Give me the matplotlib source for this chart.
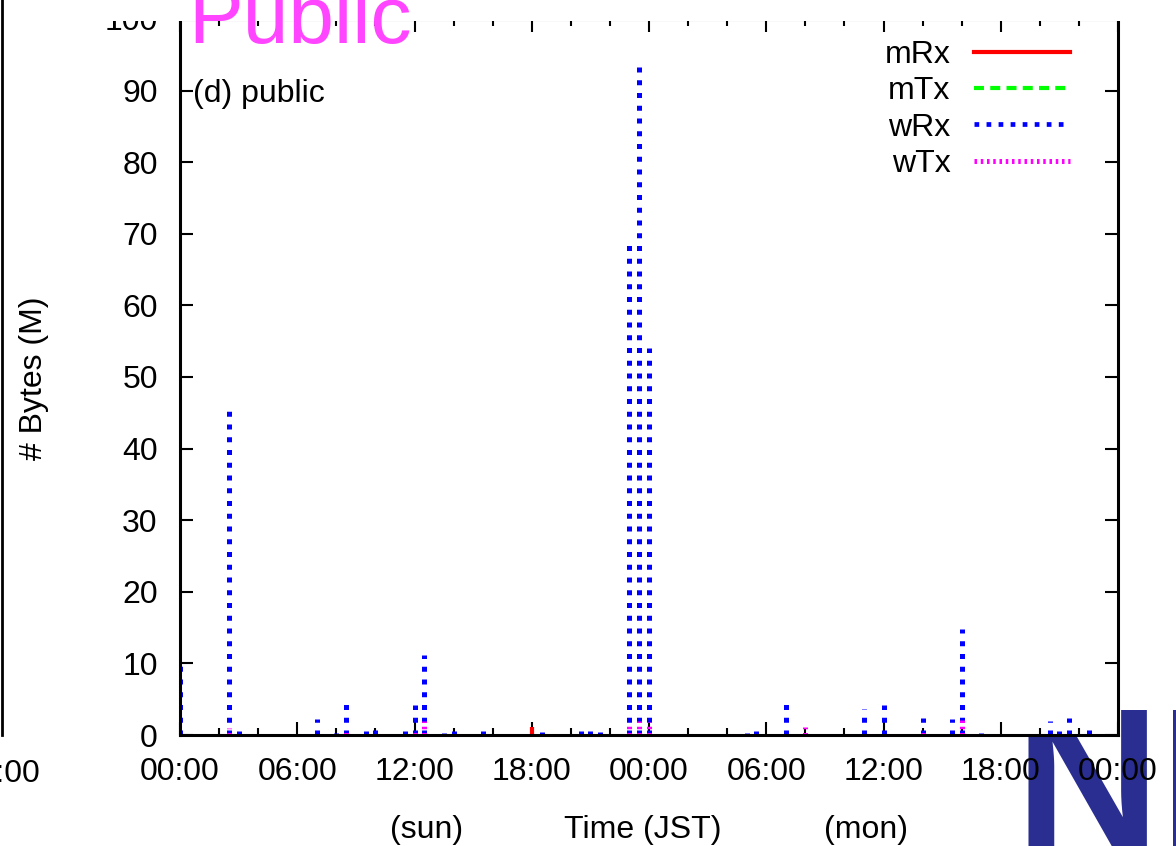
import matplotlib
matplotlib.use('Agg')
import matplotlib.pyplot as plt
from matplotlib.lines import Line2D
from matplotlib.patches import Rectangle

plt.rcParams['font.family'] = ['Liberation Sans', 'DejaVu Sans']

# hours since 00:00 (sat/sun boundary), values in MBytes
mrx_hours = [18.0]
mrx_vals = [1.1]
mtx_hours = []
mtx_vals = []
wrx_hours = [0, 2.5, 3, 7, 8, 8.5, 9.5, 10, 11.5, 12, 12.5, 13.5, 14, 15.5,
             18.5, 20.5, 21, 21.5, 23, 23.5, 24, 25.5, 29, 29.5, 31, 35, 36,
             37, 38, 39.5, 40, 41, 44.5, 45, 45.5, 46.5]
wrx_vals = [9.8, 46, 0.6, 2.3, 0.3, 4.3, 0.5, 0.8, 0.6, 4.2, 11.2, 0.3, 0.6, 0.6,
            0.4, 0.6, 0.6, 0.4, 69, 94, 54, 0.2, 0.3, 0.5, 4.3, 3.6, 4.2,
            0.1, 2.4, 2.3, 14.8, 0.3, 1.9, 0.6, 2.4, 0.7]
wtx_hours = [2.5, 8.5, 12, 12.5, 23, 23.5, 24, 32, 38, 40]
wtx_vals = [1.0, 0.8, 0.9, 2.0, 1.6, 2.0, 1.8, 1.1, 0.5, 2.2]

xtick_pos = [0, 6, 12, 18, 24, 30, 36, 42, 48]
xtick_labels = ['00:00', '06:00', '12:00', '18:00', '00:00', '06:00', '12:00', '18:00', '00:00']

W, H = 1176, 846
fig = plt.figure(figsize=(W / 100, H / 100), dpi=100)
ax = fig.add_axes([180 / W, 1 - 735 / H, (1118 - 180) / W, (735 - 19) / H])

fs = 23
red_ls = '-'
green_ls = (0, (2.4, 1.5))
blue_ls = (0, (1, 1.55))
mag_ls = (0, (0.5, 0.75))

ax.vlines(mrx_hours, 0, mrx_vals, colors='#ff0000', linewidth=3, linestyles=red_ls)
ax.vlines(mtx_hours, 0, mtx_vals, colors='#00ff00', linewidth=3, linestyles=[green_ls])
ax.vlines(wrx_hours, 0, wrx_vals, colors='#0000ff', linewidth=3.6, linestyles=[blue_ls])
ax.vlines(wtx_hours, 0, wtx_vals, colors='#ff00ff', linewidth=3.6, linestyles=[mag_ls])

ax.set_xlim(0, 48)
ax.set_ylim(0, 100)
ax.set_xticks(xtick_pos)
ax.set_xticklabels(xtick_labels)
ax.set_xticks(range(0, 49, 2), minor=True)
ax.set_yticks(range(0, 101, 10))
ax.tick_params(which='both', direction='in', top=True, right=True, width=1.5,
               labelsize=fs, colors='black')
ax.tick_params(which='major', length=9.5)
ax.tick_params(which='minor', length=5)
ax.tick_params(axis='y', pad=16)
ax.tick_params(axis='x', pad=16)
for s in ax.spines.values():
    s.set_linewidth(2.2)

fig.text(193 / W, 1 - 102 / H, '(d) public', fontsize=fs, va='baseline', ha='left')

handles = [Line2D([], [], color='#ff0000', lw=3, ls=red_ls),
           Line2D([], [], color='#00ff00', lw=3, ls=green_ls),
           Line2D([], [], color='#0000ff', lw=3.4, ls=blue_ls),
           Line2D([], [], color='#ff00ff', lw=3.6, ls=mag_ls)]
ax.legend(handles, ['mRx', 'mTx', 'wRx', 'wTx'], loc='upper right', frameon=False,
          bbox_to_anchor=(1 - 27 / 938, 1),
          markerfirst=False, fontsize=fs, handlelength=3.0, handletextpad=0.75,
          labelspacing=0.2, borderaxespad=0.35, borderpad=0.3)

fig.text(34 / W, 1 - 378 / H, '# Bytes (M)', fontsize=fs, rotation=90,
         ha='center', va='center')
fig.text(427 / W, 1 - 838 / H, '(sun)', fontsize=fs, ha='center', va='baseline')
fig.text(643 / W, 1 - 838 / H, 'Time (JST)', fontsize=fs, ha='center', va='baseline')
fig.text(866 / W, 1 - 838 / H, '(mon)', fontsize=fs, ha='center', va='baseline')

# strip cut off at the top of the slide
fig.patches.append(Rectangle((60 / W, 1 - 21.5 / H), 1, 21.5 / H, transform=fig.transFigure,
                             facecolor='white', edgecolor='none', zorder=5))
fig.text(188 / W, 1 - 43 / H, 'Public', fontsize=59, color='#ff45ff',
         va='baseline', ha='left', zorder=6)

# neighbouring panel on the left
fig.lines.append(Line2D([2 / W, 2 / W], [1 - 735 / H, 1], transform=fig.transFigure,
                        color='black', lw=2))
fig.text(1 / W, 1 - 782 / H, '00:00', fontsize=fs, ha='center', va='baseline')

# logo in the bottom right corner
fig.text(1015 / W, 1 - 848 / H, 'NI', fontsize=145, fontweight='bold',
         color='#2a2e91', va='baseline', ha='left', zorder=-1)

fig.savefig('out.png', dpi=100)
